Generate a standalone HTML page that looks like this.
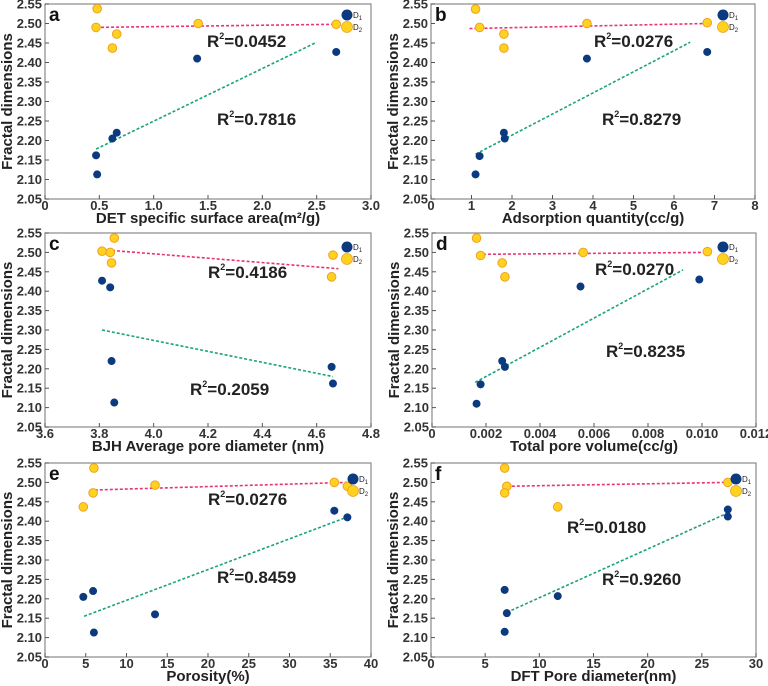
<!DOCTYPE html>
<html><head><meta charset="utf-8">
<style>
html,body{margin:0;padding:0;background:#fff;}
svg{display:block;font-family:"Liberation Sans",Arial,sans-serif;}
</style></head>
<body>
<svg id="fig" width="768" height="686" viewBox="0 0 768 686" xmlns="http://www.w3.org/2000/svg"></svg>
<script>
// ---- data (per panel) ----
const yTicks = [2.05,2.10,2.15,2.20,2.25,2.30,2.35,2.40,2.45,2.50,2.55];

const aXTicks = ["0","0.5","1.0","1.5","2.0","2.5","3.0"];
const aD1x = [0.48,0.47,0.62,0.66,1.40,2.68];
const aD1y = [2.113,2.162,2.205,2.220,2.410,2.427];
const aD2x = [0.48,0.47,0.62,0.66,1.41,2.68];
const aD2y = [2.538,2.490,2.437,2.473,2.500,2.498];
const aFit1 = [0.47,2.178,2.50,2.452];
const aFit2 = [0.47,2.490,2.68,2.498];
const aR2 = ["0.0452","0.7816"];

const bXTicks = ["0","1","2","3","4","5","6","7","8"];
const bD1x = [1.1,1.2,1.8,1.82,3.85,6.82];
const bD1y = [2.113,2.160,2.220,2.205,2.410,2.427];
const bD2x = [1.1,1.2,1.8,1.8,3.85,6.82];
const bD2y = [2.537,2.490,2.473,2.437,2.500,2.502];
const bFit1 = [1.1,2.165,6.4,2.452];
const bFit2 = [0.95,2.487,6.8,2.500];
const bR2 = ["0.0276","0.8279"];

const cXTicks = ["3.6","3.8","4.0","4.2","4.4","4.6","4.8"];
const cD1x = [3.81,3.84,3.845,3.855,4.655,4.66];
const cD1y = [2.427,2.410,2.220,2.113,2.205,2.162];
const cD2x = [3.81,3.84,3.845,3.855,4.66,4.655];
const cD2y = [2.503,2.500,2.473,2.537,2.493,2.437];
const cFit1 = [3.81,2.300,4.66,2.180];
const cFit2 = [3.81,2.507,4.68,2.458];
const cR2 = ["0.4186","0.2059"];

const dXTicks = ["0","0.002","0.004","0.006","0.008","0.010","0.012"];
const dD1x = [0.00165,0.0018,0.0026,0.0027,0.0055,0.0099];
const dD1y = [2.110,2.160,2.220,2.205,2.412,2.430];
const dD2x = [0.00165,0.0018,0.0026,0.0027,0.0056,0.0102];
const dD2y = [2.537,2.492,2.473,2.437,2.500,2.502];
const dFit1 = [0.0016,2.165,0.0093,2.455];
const dFit2 = [0.0017,2.495,0.0102,2.500];
const dR2 = ["0.0270","0.8235"];

const eXTicks = ["0","5","10","15","20","25","30","35","40"];
const eD1x = [4.7,5.9,6.0,13.5,35.5,37.1];
const eD1y = [2.205,2.220,2.113,2.160,2.427,2.410];
const eD2x = [4.7,6.0,5.9,13.5,35.5,37.1];
const eD2y = [2.437,2.537,2.473,2.493,2.500,2.490];
const eFit1 = [4.8,2.155,37.0,2.410];
const eFit2 = [5.5,2.480,37.0,2.500];
const eR2 = ["0.0276","0.8459"];

const fXTicks = ["0","5","10","15","20","25","30"];
const fD1x = [6.8,7.0,6.8,11.7,27.4,27.4];
const fD1y = [2.223,2.163,2.115,2.207,2.430,2.412];
const fD2x = [6.8,7.0,6.8,11.7,27.4];
const fD2y = [2.537,2.490,2.473,2.437,2.500];
const fFit1 = [7.0,2.165,27.3,2.420];
const fFit2 = [7.0,2.490,27.3,2.500];
const fR2 = ["0.0180","0.9260"];

// ---- layout ----
const panels = [
 {id:"a",L:45,R:371,T:4,B:199,x0:0,x1:3,xt:aXTicks,title:"DET specific surface area(m²/g)",d1x:aD1x,d1y:aD1y,d2x:aD2x,d2y:aD2y,f1:aFit1,f2:aFit2,r2:aR2,rp:[[207,47],[217,125]],lg:[347,15]},
 {id:"b",L:431,R:755,T:4,B:199,x0:0,x1:8,xt:bXTicks,title:"Adsorption quantity(cc/g)",d1x:bD1x,d1y:bD1y,d2x:bD2x,d2y:bD2y,f1:bFit1,f2:bFit2,r2:bR2,rp:[[594,47],[602,125]],lg:[723,15]},
 {id:"c",L:45,R:371,T:233,B:427,x0:3.6,x1:4.8,xt:cXTicks,title:"BJH Average pore diameter (nm)",d1x:cD1x,d1y:cD1y,d2x:cD2x,d2y:cD2y,f1:cFit1,f2:cFit2,r2:cR2,rp:[[208,278],[190,395]],lg:[347,247]},
 {id:"d",L:432,R:756,T:233,B:427,x0:0,x1:0.012,xt:dXTicks,title:"Total pore volume(cc/g)",d1x:dD1x,d1y:dD1y,d2x:dD2x,d2y:dD2y,f1:dFit1,f2:dFit2,r2:dR2,rp:[[595,275],[606,357]],lg:[723,247]},
 {id:"e",L:45,R:371,T:463,B:657,x0:0,x1:40,xt:eXTicks,title:"Porosity(%)",d1x:eD1x,d1y:eD1y,d2x:eD2x,d2y:eD2y,f1:eFit1,f2:eFit2,r2:eR2,rp:[[208,505],[217,583]],lg:[353,479]},
 {id:"f",L:431,R:756,T:463,B:657,x0:0,x1:30,xt:fXTicks,title:"DFT Pore diameter(nm)",d1x:fD1x,d1y:fD1y,d2x:fD2x,d2y:fD2y,f1:fFit1,f2:fFit2,r2:fR2,rp:[[567,533],[602,585]],lg:[736,479]}
];
const NS="http://www.w3.org/2000/svg";
const svg=document.getElementById("fig");
function mk(tag,attrs,parent,text){const e=document.createElementNS(NS,tag);for(const k in attrs)e.setAttribute(k,attrs[k]);if(text!==undefined)e.textContent=text;(parent||svg).appendChild(e);return e;}

panels.forEach(p=>{
  const g=mk("g",{});
  
  
  const Y0=2.05,Y1=2.55;
  const sx=v=>p.L+(v-p.x0)/(p.x1-p.x0)*(p.R-p.L);
  const sy=v=>p.B-(v-Y0)/(Y1-Y0)*(p.B-p.T);
  const frame=mk("rect",{x:p.L,y:p.T,width:p.R-p.L,height:p.B-p.T,fill:"none",stroke:"#8a8a8a","stroke-width":1.2},g);
  
  
  yTicks.forEach(t=>{
    const y=sy(t);
    mk("line",{x1:p.L,x2:p.L+4,y1:y,y2:y,stroke:"#555","stroke-width":1},g);
    const tl=mk("text",{x:p.L-3,y:y+4.5,"text-anchor":"end","font-size":13,"font-weight":"bold",fill:"#333"},g,t.toFixed(2));
    
    
  });
  p.xt.forEach(s=>{
    const x=sx(parseFloat(s));
    mk("line",{x1:x,x2:x,y1:p.B,y2:p.B-4,stroke:"#555","stroke-width":1},g);
    const tl=mk("text",{x:x,y:p.B+11,"text-anchor":"middle","font-size":13,"font-weight":"bold",fill:"#333"},g,s);
    
    
  });
  const xt=mk("text",{x:(p.L+p.R)/2,y:p.B+24,"text-anchor":"middle","font-size":15,"font-weight":"bold",fill:"#222"},g,p.title);
  
  
  const cy=(p.T+p.B)/2, tx=p.L-33;
  const yt=mk("text",{x:tx,y:cy,"text-anchor":"middle","font-size":15,"font-weight":"bold",fill:"#222",transform:`rotate(-90 ${tx} ${cy})`},g,"Fractal dimensions");
  
  
  const pl=mk("text",{x:p.L+4,y:p.T+17,"font-size":19,"font-weight":"bold",fill:"#111"},g,p.id);
  
  
  const l2=mk("line",{x1:sx(p.f2[0]),y1:sy(p.f2[1]),x2:sx(p.f2[2]),y2:sy(p.f2[3]),stroke:"#e8337a","stroke-width":1.6,"stroke-dasharray":"3,2"},g);
  
  
  const l1=mk("line",{x1:sx(p.f1[0]),y1:sy(p.f1[1]),x2:sx(p.f1[2]),y2:sy(p.f1[3]),stroke:"#1aa37a","stroke-width":1.6,"stroke-dasharray":"3,2"},g);
  
  
  p.d2x.forEach((x,i)=>{
    const c=mk("circle",{cx:sx(x),cy:sy(p.d2y[i]),r:4.3,fill:"#ffd21f",stroke:"#f0a020","stroke-width":1},g);
    
    
  });
  p.d1x.forEach((x,i)=>{
    const c=mk("circle",{cx:sx(x),cy:sy(p.d1y[i]),r:4,fill:"#0b3a7e"},g);
    
    
  });
  p.r2.forEach((v,i)=>{
    const t=mk("text",{x:p.rp[i][0],y:p.rp[i][1],"font-size":17,"font-weight":"bold",fill:"#222"},g);
    
    
    mk("tspan",{},t,"R");
    mk("tspan",{"font-size":9,dy:-8},t,"2");
    mk("tspan",{dy:8},t,"="+v);
  });
  const lg=mk("g",{},g);
  
  
  mk("circle",{cx:p.lg[0],cy:p.lg[1],r:5.5,fill:"#0b3a7e"},lg);
  mk("circle",{cx:p.lg[0],cy:p.lg[1]+12,r:5.5,fill:"#ffd21f",stroke:"#f0a020","stroke-width":0.8},lg);
  const t1=mk("text",{x:p.lg[0]+6,y:p.lg[1]+3,"font-size":8,fill:"#222"},lg);
  mk("tspan",{},t1,"D");mk("tspan",{"font-size":6,dy:2},t1,"1");
  const t2=mk("text",{x:p.lg[0]+6,y:p.lg[1]+15,"font-size":8,fill:"#222"},lg);
  mk("tspan",{},t2,"D");mk("tspan",{"font-size":6,dy:2},t2,"2");
});
</script>
</body></html>
